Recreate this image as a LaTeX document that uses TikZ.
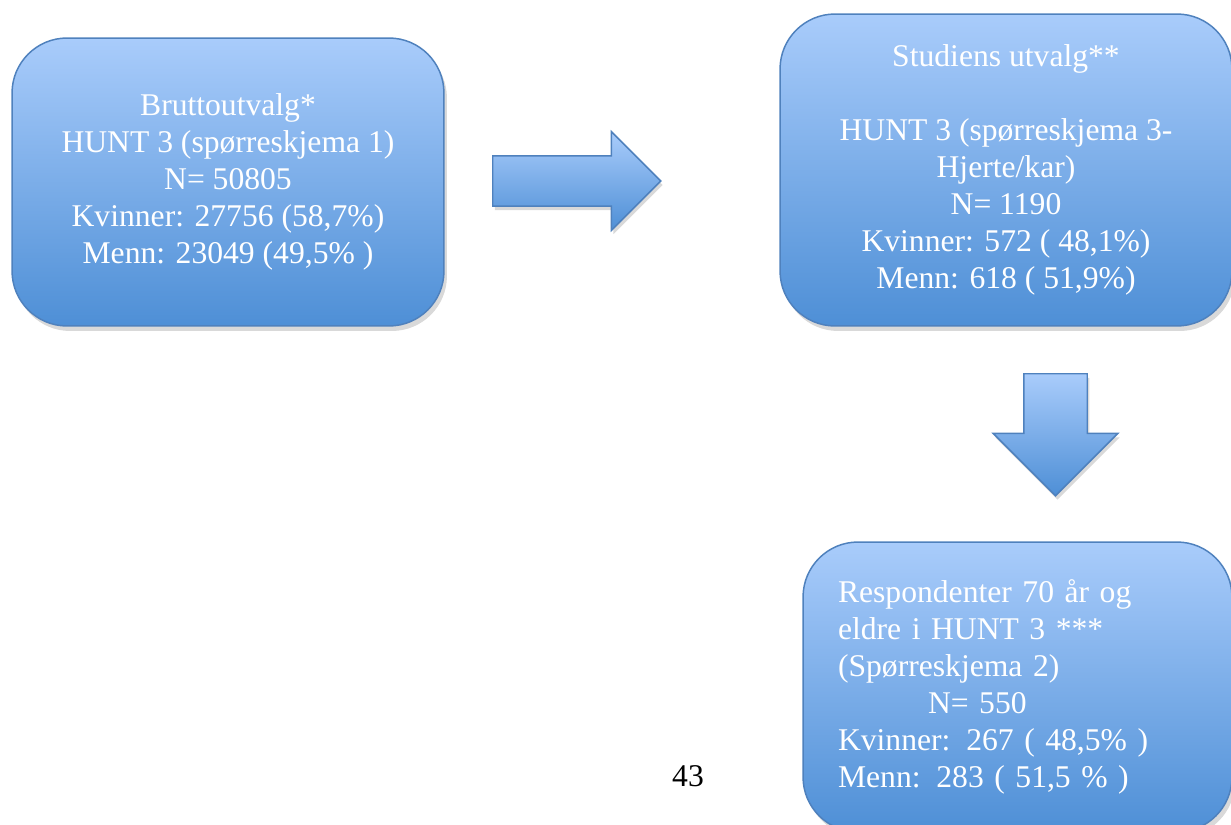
\documentclass[tikz,border=0pt]{standalone}
\usepackage{fontspec}
\setmainfont{Liberation Serif}
\usepackage{xcolor}
\usetikzlibrary{shapes.arrows, shadows}

\definecolor{boksTopp}{HTML}{A9CCFB}
\definecolor{boksBunn}{HTML}{4E8FD6}
\definecolor{boksKant}{HTML}{4F81BD}

\begin{document}
\begin{tikzpicture}[x=0.02cm, y=-0.02cm,
    boks/.style={rectangle, rounded corners=1.1cm, draw=boksKant, line width=0.85pt,
      top color=boksTopp, bottom color=boksBunn, text=white, inner sep=0pt,
      font=\fontsize{18}{21}\selectfont,
      drop shadow={opacity=0.3, shadow xshift=0.06cm, shadow yshift=-0.1cm}},
    pil/.style={single arrow, draw=boksKant, line width=0.85pt,
      top color=boksTopp, bottom color=boksBunn, anchor=tail,
      single arrow tip angle=90, single arrow head indent=0pt,
      drop shadow={opacity=0.3, shadow xshift=0.04cm, shadow yshift=-0.08cm}}]
        \useasboundingbox (0,0) rectangle (1231,825);

        % Forste boks
        \node[boks, minimum width=8.64cm, minimum height=5.76cm, align=center] (brutto) at (228,182)
          {Bruttoutvalg*\\HUNT 3 (spørreskjema 1)\\N= 50805\\Kvinner: 27756 (58,7\%)\\Menn: 23049 (49,5\% )};

        % Andre boks
        \node[boks, minimum width=9.04cm, minimum height=6.24cm, align=center] (studie) at (1006,170)
          {Studiens utvalg**\\[21pt]HUNT 3 (spørreskjema 3-\\Hjerte/kar)\\N= 1190\\Kvinner: 572 ( 48,1\%)\\Menn: 618 ( 51,9\%)};

        % Tredje boks
        \node[boks, minimum width=8.58cm, minimum height=5.8cm, text width=7.18cm, align=left] (eldre) at (1017.5,687)
          {Respondenter 70 år og\\eldre i HUNT 3 ***\\(Spørreskjema 2)\\\hspace*{1.8cm}N= 550\\Kvinner: 267 ( 48,5\% )\\Menn: 283 ( 51,5 \% )};

        % Piler
        \node[pil, inner sep=0.49cm, minimum height=3.36cm, single arrow head extend=0.48cm] (pilH) at (492,181) {};
        \node[pil, inner sep=0.62cm, minimum height=2.44cm, single arrow head extend=0.61cm, shape border rotate=270] (pilN) at (1055.5,373) {};

        % Sidetall
        \node[font=\fontsize{18}{21}\selectfont, inner sep=0pt] (side) at (688,776) {43};
    \end{tikzpicture}
\end{document}
